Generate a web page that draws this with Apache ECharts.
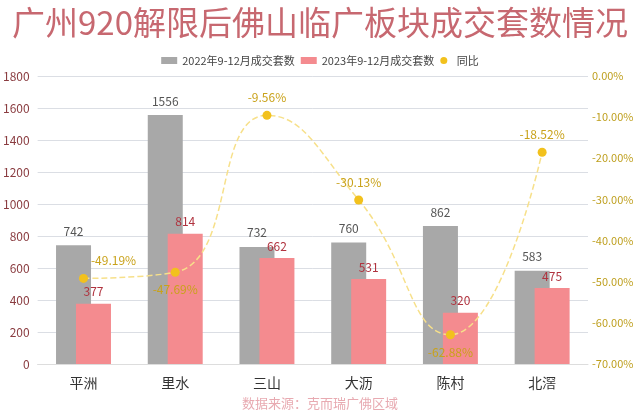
<!DOCTYPE html>
<html><head><meta charset="utf-8">
<script src="https://cdn.jsdelivr.net/npm/echarts@6/dist/echarts.min.js"></script>
<style>html,body{margin:0;padding:0;background:#fff}#c{width:640px;height:420px}</style>
</head><body><div id="c"></div>
<script>
const categories = ['平洲','里水','三山','大沥','陈村','北滘'];
const sales2022 = [742,1556,732,760,862,583];
const sales2023 = [377,814,662,531,320,475];
const yoy = [-49.19,-47.69,-9.56,-30.13,-62.88,-18.52];
const yoyLabelPos = ['top','bottom','top','top','bottom','top'];
const leftTicks = [0,200,400,600,800,1000,1200,1400,1600,1800];

const FONT = '"Noto Sans CJK SC", "Noto Sans", sans-serif';
const chart = echarts.init(document.getElementById('c'));
chart.setOption({
  backgroundColor:'#fff',
  textStyle:{fontFamily:FONT},
  title:{text:'广州920解限后佛山临广板块成交套数情况', left:'center', top:1,
    textStyle:{fontSize:33, fontWeight:'normal', color:'#c76870', fontFamily:FONT}},
  legend:{top:50, left:'center', itemWidth:16, itemHeight:7, itemGap:6,
    textStyle:{fontSize:11, color:'#444'},
    data:[{name:'2022年9-12月成交套数', icon:'rect'},{name:'2023年9-12月成交套数', icon:'rect'},{name:'同比', icon:'circle', itemStyle:{color:'#f2c11d'}}]},
  grid:{left:36, right:52, top:76, bottom:56},
  xAxis:{type:'category', data:categories,
    axisLine:{lineStyle:{color:'#dddddd'}}, axisTick:{show:false},
    axisLabel:{fontSize:14, color:'#333', margin:12}},
  yAxis:[
    {type:'value', min:leftTicks[0], max:leftTicks[leftTicks.length-1], interval:200,
      axisLine:{show:false}, axisTick:{show:false},
      axisLabel:{fontSize:12, color:'#8a3c40', margin:8, formatter:v=>String(v)}},
    {type:'value', min:-70, max:0, interval:10, position:'right',
      axisLine:{show:false}, axisTick:{show:false}, splitLine:{show:false},
      axisLabel:{fontSize:11, color:'#bfa020', margin:4, formatter:v=>v.toFixed(2)+'%'}}
  ],
  series:[
    {name:'2022年9-12月成交套数', type:'bar', data:sales2022, barWidth:35, barGap:'-43%',
      itemStyle:{color:'#a8a8a8'},
      label:{show:true, position:'top', fontSize:12, color:'#555', distance:8}},
    {name:'2023年9-12月成交套数', type:'bar', data:sales2023, barWidth:35,
      itemStyle:{color:'#f48b8f'},
      label:{show:true, position:'top', fontSize:12, color:'#b0323e', distance:6}},
    {name:'同比', type:'line', yAxisIndex:1, smooth:true, symbol:'circle', symbolSize:9,
      itemStyle:{color:'#f2c11d'}, lineStyle:{color:'#f7e08a', width:1.5, type:'dashed'},
      data: yoy.map((v,i)=>({value:v, label:{position:yoyLabelPos[i], offset: i===0?[30,0]:[0,0]}})),
      label:{show:true, fontSize:12, color:'#c9a21a', distance:7, formatter:p=>p.value.toFixed(2)+'%'},
      z:5}
  ],
  graphic:[{type:'text', left:'center', top:397,
    style:{text:'数据来源：克而瑞广佛区域', fontSize:13, fill:'#e8aab1', fontFamily:FONT}}]
});
</script></body></html>
